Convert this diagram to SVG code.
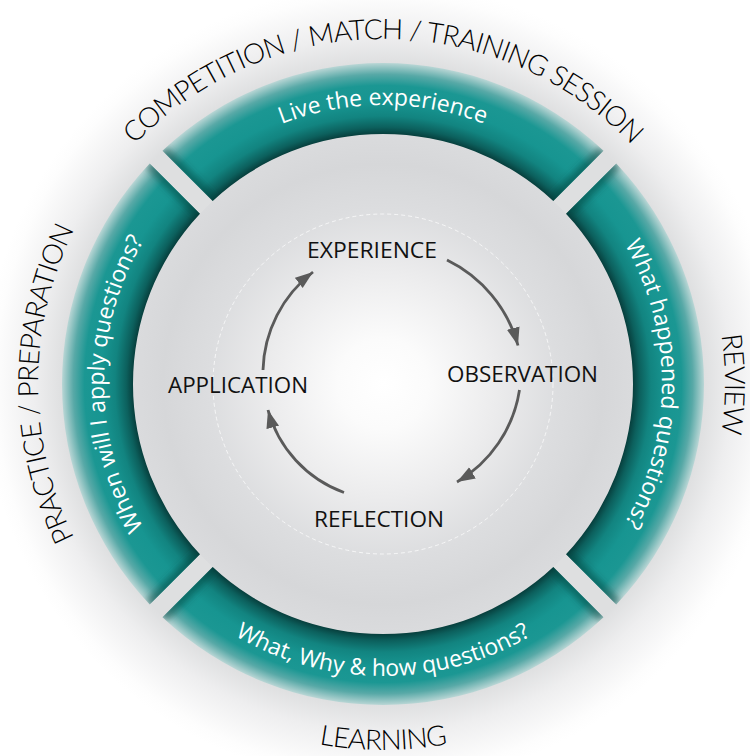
<svg xmlns="http://www.w3.org/2000/svg" xmlns:xlink="http://www.w3.org/1999/xlink" width="750" height="756" viewBox="0 0 750 756">
<style>
.outer{font-family:Lato,"Liberation Sans",sans-serif;font-weight:300;font-size:28px;letter-spacing:-0.9px;fill:#000}
.band{font-family:"Open Sans","Liberation Sans",sans-serif;font-size:23px;fill:#fff}
.lbl{font-family:"Open Sans","Liberation Sans",sans-serif;font-size:22px;fill:#111}
.arr{fill:none;stroke:#5a5a5a;stroke-width:2.8;marker-end:url(#ah)}
.seg{fill:url(#ring)}
.bevel{fill:none;stroke:#063f3d;stroke-width:12;stroke-opacity:0.5;filter:url(#soft)}
</style>
<defs>
<radialGradient id="halo" gradientUnits="userSpaceOnUse" cx="383" cy="384" r="400">
<stop offset="0" stop-color="#dedfe0"/><stop offset="0.8" stop-color="#dedfe0"/><stop offset="0.87" stop-color="#eeeeef"/><stop offset="0.97" stop-color="#fdfdfd"/><stop offset="1" stop-color="#ffffff"/>
</radialGradient>
<radialGradient id="ring" gradientUnits="userSpaceOnUse" cx="383" cy="384" r="321">
<stop offset="0.779" stop-color="#073f3d"/><stop offset="0.80" stop-color="#0c605d"/><stop offset="0.835" stop-color="#128480"/><stop offset="0.88" stop-color="#179591"/><stop offset="0.93" stop-color="#1b9793"/><stop offset="0.965" stop-color="#58a9a7"/><stop offset="1" stop-color="#b9d6d5"/>
</radialGradient>
<radialGradient id="disc" gradientUnits="userSpaceOnUse" cx="383" cy="384" r="250">
<stop offset="0" stop-color="#ffffff"/><stop offset="0.18" stop-color="#fbfbfb"/><stop offset="0.45" stop-color="#ececed"/><stop offset="0.7" stop-color="#dcdddf"/><stop offset="0.88" stop-color="#d6d7d9"/><stop offset="1" stop-color="#dadbdd"/>
</radialGradient>
<filter id="soft" x="-30%" y="-30%" width="160%" height="160%"><feGaussianBlur stdDeviation="3"/></filter>
<path id="segShape" d="M162.47,150.74 A321,321 0 0 1 603.53,150.74 L553.30,200.97 A250,250 0 0 0 212.70,200.97 Z"/>
<clipPath id="segClip"><use xlink:href="#segShape"/></clipPath>
<marker id="ah" markerUnits="userSpaceOnUse" markerWidth="20" markerHeight="14" refX="18" refY="6.5" orient="auto">
<path d="M0,0 L18,6.5 L0,13 Z" fill="#5a5a5a"/>
</marker>
<path id="oTop" d="M38,384 A345,345 0 0 1 728,384"/>
<path id="oLeft" d="M383,729 A345,345 0 0 1 383,39"/>
<path id="oRight" d="M383,42 A342,342 0 0 1 383,726"/>
<path id="oBottom" d="M17,384 A366,366 0 0 0 749,384"/>
<path id="bTop" d="M104,384 A279,279 0 0 1 662,384"/>
<path id="bLeft" d="M383,663 A279,279 0 0 1 383,105"/>
<path id="bRight" d="M383,105 A279,279 0 0 1 383,663"/>
<path id="bBottom" d="M91,384 A292,292 0 0 0 675,384"/>
</defs>
<rect width="750" height="756" fill="#ffffff"/>
<circle cx="383" cy="384" r="400" fill="url(#halo)"/>
<circle id="inner-disc" cx="383" cy="384" r="250" fill="url(#disc)"/>
<circle cx="383" cy="384" r="170" fill="none" stroke="#ffffff" stroke-opacity="0.7" stroke-width="1" stroke-dasharray="4 3"/>

<g id="seg-top">
<use xlink:href="#segShape" class="seg"/>
<g clip-path="url(#segClip)"><path class="bevel" d="M162.47,150.74 L212.70,200.97 M603.53,150.74 L553.30,200.97"/></g>
<text class="band"><textPath xlink:href="#bTop" startOffset="50%" text-anchor="middle">Live the experience</textPath></text>
</g>
<g id="seg-right">
<g transform="rotate(90 383 384)">
<use xlink:href="#segShape" class="seg"/>
<g clip-path="url(#segClip)"><path class="bevel" d="M162.47,150.74 L212.70,200.97 M603.53,150.74 L553.30,200.97"/></g>
</g>
<text class="band"><textPath xlink:href="#bRight" startOffset="50%" text-anchor="middle">What happened questions?</textPath></text>
</g>
<g id="seg-bottom">
<g transform="rotate(180 383 384)">
<use xlink:href="#segShape" class="seg"/>
<g clip-path="url(#segClip)"><path class="bevel" d="M162.47,150.74 L212.70,200.97 M603.53,150.74 L553.30,200.97"/></g>
</g>
<text class="band"><textPath xlink:href="#bBottom" startOffset="50%" text-anchor="middle">What, Why &amp; how questions?</textPath></text>
</g>
<g id="seg-left">
<g transform="rotate(270 383 384)">
<use xlink:href="#segShape" class="seg"/>
<g clip-path="url(#segClip)"><path class="bevel" d="M162.47,150.74 L212.70,200.97 M603.53,150.74 L553.30,200.97"/></g>
</g>
<text class="band"><textPath xlink:href="#bLeft" startOffset="50%" text-anchor="middle">When will I apply questions?</textPath></text>
</g>

<g id="outer-labels">
<text class="outer"><textPath xlink:href="#oTop" startOffset="50%" text-anchor="middle">COMPETITION / MATCH / TRAINING SESSION</textPath></text>
<text class="outer"><textPath xlink:href="#oRight" startOffset="50%" text-anchor="middle">REVIEW</textPath></text>
<text class="outer"><textPath xlink:href="#oBottom" startOffset="50%" text-anchor="middle">LEARNING</textPath></text>
<text class="outer"><textPath xlink:href="#oLeft" startOffset="50%" text-anchor="middle">PRACTICE / PREPARATION</textPath></text>
</g>

<g id="node-experience"><text class="lbl" x="307" y="258" textLength="130" lengthAdjust="spacingAndGlyphs">EXPERIENCE</text></g>
<g id="node-observation"><text class="lbl" x="447" y="382" textLength="151" lengthAdjust="spacingAndGlyphs">OBSERVATION</text></g>
<g id="node-reflection"><text class="lbl" x="314" y="527" textLength="130" lengthAdjust="spacingAndGlyphs">REFLECTION</text></g>
<g id="node-application"><text class="lbl" x="168" y="393" textLength="140" lengthAdjust="spacingAndGlyphs">APPLICATION</text></g>

<g id="connectors">
<path class="arr" d="M447,260 A135,135 0 0 1 518,345.5"/>
<path class="arr" d="M519.5,390 A130,130 0 0 1 457,482"/>
<path class="arr" d="M344,492.5 A122,122 0 0 1 268,410"/>
<path class="arr" d="M263,370 A128,128 0 0 1 313,272"/>
</g>
</svg>
